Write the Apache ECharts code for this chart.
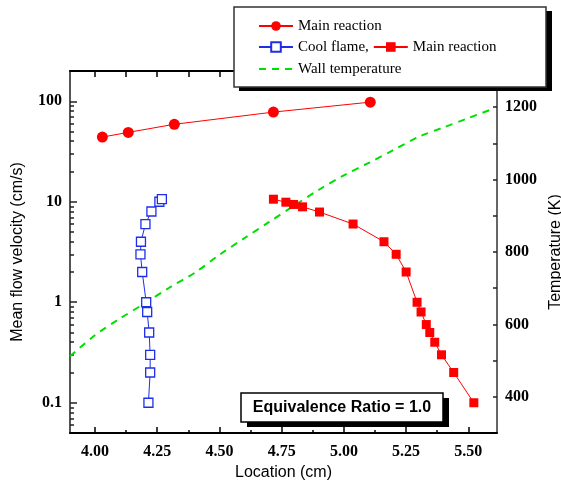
<!DOCTYPE html>
<html>
<head>
<meta charset="utf-8">
<script src="https://cdn.jsdelivr.net/npm/echarts@6.0.0/dist/echarts.min.js"></script>
<style>
  html, body { margin: 0; padding: 0; background: #fff; }
  #chart { width: 561px; height: 481px; }
</style>
</head>
<body>
<div id="chart"></div>
<script>
// main reaction (circles), flow velocity cm/s
var ignX = [4.03, 4.134, 4.319, 4.717, 5.106];
var ignV = [44, 49, 59, 78, 98];

// cool flame (hollow squares)
var coolX = [4.215, 4.222, 4.222, 4.218, 4.21, 4.206, 4.19, 4.183, 4.185, 4.203, 4.227, 4.259, 4.269];
var coolV = [0.1, 0.2, 0.3, 0.5, 0.8, 1, 2, 3, 4, 6, 8, 10, 10.6];

// main reaction after cool flame (filled squares)
var mainX = [4.717, 4.767, 4.798, 4.834, 4.902, 5.037, 5.161, 5.21, 5.25, 5.294, 5.31, 5.331, 5.345, 5.365, 5.392, 5.441, 5.522];
var mainV = [10.6, 9.9, 9.4, 8.9, 7.9, 6, 4, 3, 2, 1, 0.8, 0.6, 0.5, 0.4, 0.3, 0.2, 0.1];

// wall temperature (K)
var wallX = [3.9, 4.0, 4.1, 4.2, 4.3, 4.4, 4.5, 4.6, 4.7, 4.8, 4.9, 5.0, 5.1, 5.2, 5.3, 5.4, 5.5, 5.6];
var wallT = [512, 570, 616, 658, 702, 742, 792, 838, 883, 928, 972, 1012, 1046, 1082, 1118, 1144, 1170, 1196];

// tick labels
var xTicks = [4.00, 4.25, 4.50, 4.75, 5.00, 5.25, 5.50];
var xMinor = [4.125, 4.375, 4.625, 4.875, 5.125, 5.375];
var velTicks = [0.1, 1, 10, 100];
var velMinor = [0.06, 0.07, 0.08, 0.09, 0.2, 0.3, 0.4, 0.5, 0.6, 0.7, 0.8, 0.9,
                2, 3, 4, 5, 6, 7, 8, 9, 20, 30, 40, 50, 60, 70, 80, 90];
var tTicks = [400, 600, 800, 1000, 1200];
var tMinor = [500, 700, 900, 1100];

function zip(a, b) {
  var out = [];
  for (var i = 0; i < a.length; i++) out.push([a[i], b[i]]);
  return out;
}

var myChart = echarts.init(document.getElementById('chart'));

var labelFont = { fontFamily: 'Liberation Serif', fontWeight: 'bold', fontSize: 16, color: '#000' };
var nameFont = { fontFamily: 'Liberation Sans', fontSize: 16, color: '#000' };
var legendFont = { fontFamily: 'Liberation Serif', fontSize: 15, color: '#000' };

var xBase = { type: 'value', min: 3.9, max: 5.615, splitLine: { show: false } };
var velBase = { type: 'log', logBase: 10, min: 0.05, max: 200, splitLine: { show: false } };
var tBase = { type: 'value', min: 300, max: 1300, splitLine: { show: false } };

var option = {
  animation: false,
  backgroundColor: '#fff',
  grid: { left: 70, right: 64, top: 71, bottom: 48, containLabel: false, outerBoundsMode: 'none' },
  xAxis: [
    Object.assign({}, xBase, {
      position: 'bottom',
      name: 'Location (cm)', nameLocation: 'middle', nameGap: 29, nameTextStyle: nameFont,
      axisLine: { lineStyle: { color: '#000', width: 2 } },
      axisTick: { inside: true, length: 6, customValues: xTicks, lineStyle: { color: '#000', width: 1.5 } },
      axisLabel: Object.assign({ customValues: xTicks, margin: 11,
        formatter: function (v) { return v.toFixed(2); } }, labelFont)
    }),
    Object.assign({}, xBase, {
      position: 'bottom',
      axisLine: { show: false },
      axisTick: { inside: true, length: 3, customValues: xMinor, lineStyle: { color: '#000', width: 1.5 } },
      axisLabel: { show: false }
    }),
    Object.assign({}, xBase, {
      position: 'top',
      axisLine: { lineStyle: { color: '#000', width: 2 } },
      axisTick: { inside: true, length: 6, customValues: xTicks, lineStyle: { color: '#000', width: 1.5 } },
      axisLabel: { show: false }
    }),
    Object.assign({}, xBase, {
      position: 'top',
      axisLine: { show: false },
      axisTick: { inside: true, length: 6, customValues: xMinor, lineStyle: { color: '#000', width: 1.5 } },
      axisLabel: { show: false }
    })
  ],
  yAxis: [
    Object.assign({}, velBase, {
      position: 'left',
      name: 'Mean flow velocity (cm/s)', nameLocation: 'middle', nameGap: 44, nameRotate: 90,
      nameTextStyle: nameFont,
      axisLine: { show: true, lineStyle: { color: '#555', width: 2 } },
      axisTick: { inside: true, length: 7, customValues: velTicks, lineStyle: { color: '#222', width: 1.5 } },
      axisLabel: Object.assign({ customValues: velTicks, margin: 8,
        formatter: function (v) { return String(v); } }, labelFont)
    }),
    Object.assign({}, velBase, {
      position: 'left',
      axisLine: { show: false },
      axisTick: { inside: true, length: 4, customValues: velMinor, lineStyle: { color: '#222', width: 1.5 } },
      axisLabel: { show: false }
    }),
    Object.assign({}, tBase, {
      position: 'right',
      name: 'Temperature (K)', nameLocation: 'middle', nameGap: 48, nameRotate: 90,
      nameTextStyle: nameFont,
      axisLine: { show: true, lineStyle: { color: '#666', width: 2 } },
      axisTick: { inside: true, length: 4, customValues: tTicks, lineStyle: { color: '#222', width: 1.5 } },
      axisLabel: Object.assign({ customValues: tTicks, margin: 8,
        formatter: function (v) { return String(v); } }, labelFont)
    }),
    Object.assign({}, tBase, {
      position: 'right',
      axisLine: { show: false },
      axisTick: { inside: true, length: 4, customValues: tMinor, lineStyle: { color: '#222', width: 1.5 } },
      axisLabel: { show: false }
    })
  ],
  legend: [
    { data: ['Main reaction'], left: 258, top: 18.5, padding: 0, z: 20,
      itemWidth: 34, itemHeight: 12, textStyle: legendFont },
    { data: ['Cool flame,', 'Main reaction 2'], left: 258, top: 39.5, padding: 0, z: 20,
      itemWidth: 34, itemHeight: 12, itemGap: 4, textStyle: legendFont,
      formatter: function (name) { return name === 'Main reaction 2' ? 'Main reaction' : name; } },
    { data: [{ name: 'Wall temperature', itemStyle: { opacity: 0 } }], left: 258, top: 61.5, padding: 0, z: 20,
      itemWidth: 34, itemHeight: 12, textStyle: legendFont }
  ],
  graphic: [
    // legend frame: black offset shadow, then white box
    { type: 'rect', z: 10, shape: { x: 239, y: 11, width: 313, height: 80 }, style: { fill: '#000' } },
    { type: 'rect', z: 11, shape: { x: 234, y: 7, width: 312, height: 80 },
      style: { fill: '#fff', stroke: '#333', lineWidth: 1.5 } },
    // annotation box
    { type: 'rect', z: 10, shape: { x: 247, y: 398, width: 202, height: 29 }, style: { fill: '#000' } },
    { type: 'rect', z: 11, shape: { x: 241, y: 393, width: 202, height: 29 },
      style: { fill: '#fff', stroke: '#000', lineWidth: 1.5 } },
    { type: 'text', z: 12, x: 342, y: 408,
      style: { text: 'Equivalence Ratio = 1.0', font: 'bold 16px "Liberation Sans"',
               textAlign: 'center', textVerticalAlign: 'middle', fill: '#000' } }
  ],
  series: [
    {
      name: 'Main reaction', type: 'line', xAxisIndex: 0, yAxisIndex: 0,
      data: zip(ignX, ignV),
      symbol: 'circle', symbolSize: 11,
      lineStyle: { color: '#ff0000', width: 1 },
      itemStyle: { color: '#ff0000' }
    },
    {
      name: 'Cool flame,', type: 'line', xAxisIndex: 0, yAxisIndex: 0,
      data: zip(coolX, coolV),
      symbol: 'rect', symbolSize: 9,
      lineStyle: { color: '#1f2fe8', width: 1 },
      itemStyle: { color: '#fff', borderColor: '#1f2fe8', borderWidth: 1.3 }
    },
    {
      name: 'Main reaction 2', type: 'line', xAxisIndex: 0, yAxisIndex: 0,
      data: zip(mainX, mainV),
      symbol: 'rect', symbolSize: 9,
      lineStyle: { color: '#ff0000', width: 1 },
      itemStyle: { color: '#ff0000' }
    },
    {
      name: 'Wall temperature', type: 'line', xAxisIndex: 0, yAxisIndex: 2,
      data: zip(wallX, wallT),
      symbol: 'none', smooth: 0.3,
      lineStyle: { color: '#00e000', width: 2, type: [7, 6] },
      itemStyle: { color: '#00e000' }
    }
  ]
};

myChart.setOption(option);
</script>
</body>
</html>
